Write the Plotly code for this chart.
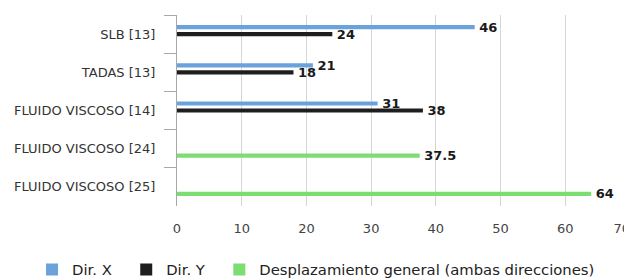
import plotly.graph_objects as go

categories = ["SLB [13]", "TADAS [13]", "FLUIDO VISCOSO [14]", "FLUIDO VISCOSO [24]", "FLUIDO VISCOSO [25]"]
dir_x = [46, 21, 31, None, None]
dir_y = [24, 18, 38, None, None]
general = [None, None, None, 37.5, 64]
x_ticks = [0, 10, 20, 30, 40, 50, 60, 70]
x_tick_labels = ["0", "10", "20", "30", "40", "50", "60", "70"]
series_names = ["Dir. X", "Dir. Y", "Desplazamiento general (ambas direcciones)"]

FONT = "DejaVu Sans"
NB = "\u00a0"

# last tick label is pushed inside the chart edge, as in the reference
tick_text = x_tick_labels[:-1] + [x_tick_labels[-1] + NB * 4]

fig = go.Figure()
series = [
    (series_names[0] + NB * 2, dir_x, "#6aa3dc"),
    (series_names[1] + NB * 2, dir_y, "#1e1e1e"),
    (series_names[2], general, "#7ddc72"),
]
for name, vals, col in series:
    ys = [c for c, v in zip(categories, vals) if v is not None]
    xs = [v for v in vals if v is not None]
    fig.add_trace(go.Bar(
        name=name, y=ys, x=xs, orientation="h",
        marker=dict(color=col, line=dict(width=0)),
        text=[f"{NB}{v:g}" for v in xs], textposition="outside", cliponaxis=False,
        constraintext="none",
        textfont=dict(size=13, color="#1a1a1a", family=FONT, weight="bold"),
    ))

fig.update_layout(
    width=632, height=280,
    margin=dict(l=169, r=10, t=7, b=82, autoexpand=False),
    paper_bgcolor="white", plot_bgcolor="white",
    barmode="group", bargap=0.45, bargroupgap=0.4,
    font=dict(family=FONT, size=13, color="#333333"),
    showlegend=True,
    legend=dict(orientation="h", x=-0.32, xanchor="left",
                y=-0.335, yanchor="middle",
                font=dict(size=14.8, color="#222222")),
)
fig.update_xaxes(range=[0, 70], tickvals=x_ticks, ticktext=tick_text,
                 showgrid=True, gridcolor="#d6d6d6", ticklabeloverflow="allow",
                 gridwidth=1, zeroline=False, showline=False, automargin=False,
                 ticks="outside", ticklen=10, tickcolor="rgba(0,0,0,0)",
                 tickfont=dict(size=13, color="#444444"))
fig.update_yaxes(type="category", categoryorder="array", categoryarray=categories,
                 autorange="reversed", showline=True, linecolor="#a8a8a8", linewidth=1,
                 ticks="outside", tickson="boundaries", ticklen=12, tickcolor="#a8a8a8",
                 ticklabelstandoff=18,
                 showgrid=False, automargin=False, tickfont=dict(size=13, color="#333333"))

fig.write_html("out.html")
